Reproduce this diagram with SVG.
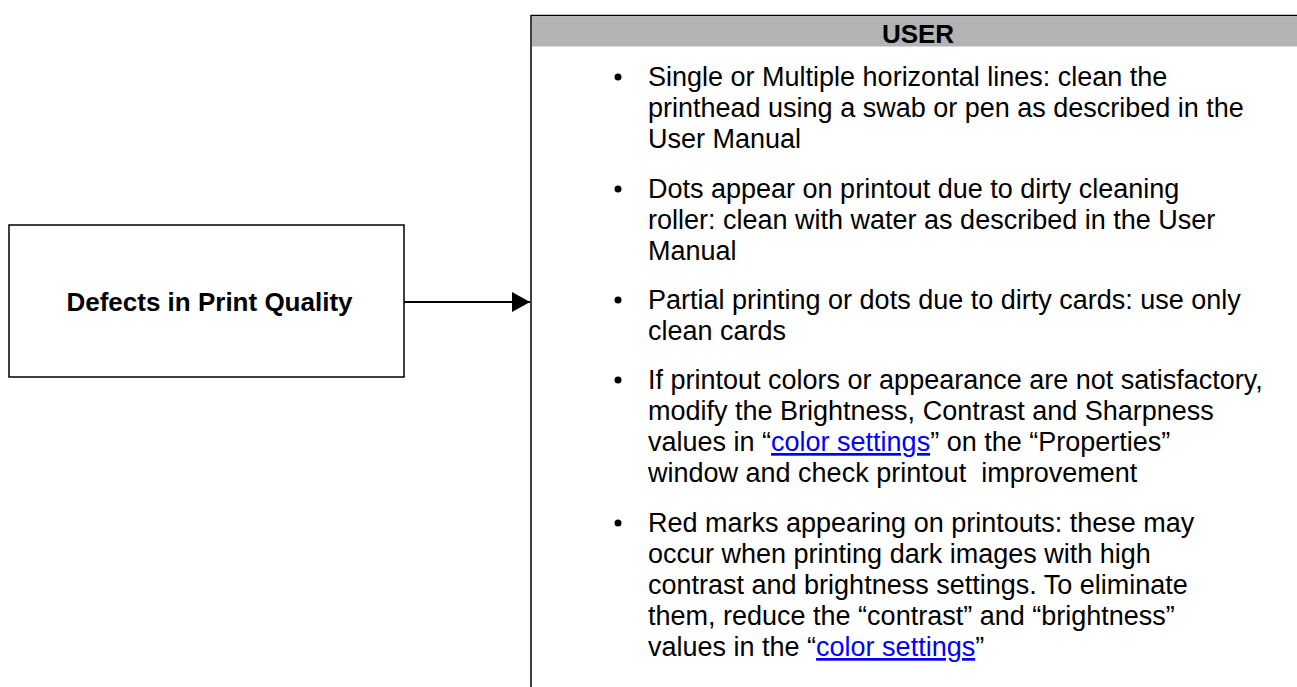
<svg xmlns="http://www.w3.org/2000/svg" width="1297" height="687" viewBox="0 0 1297 687">
<style>
.box{fill:#fff;stroke:#000;stroke-width:1.5}
.t{font-family:"Liberation Sans",Arial,sans-serif;font-size:27px;fill:#000}
.b{font-family:"Liberation Sans",Arial,sans-serif;font-weight:bold;font-size:26px;fill:#000}
.lnk{fill:#0000ff;text-decoration:underline}
.dot{fill:#000}
</style>
<defs>
<marker id="ah" markerWidth="18" markerHeight="20" refX="18" refY="10" orient="auto" markerUnits="userSpaceOnUse" viewBox="0 0 18 20">
<path d="M0,0 L18,10 L0,20 z" fill="#000"/>
</marker>
</defs>
<rect width="1297" height="687" fill="#fff"/>
<g id="node-defects">
<rect class="box" x="9" y="225" width="395" height="152"/>
<text class="b" x="209.5" y="311" text-anchor="middle">Defects in Print Quality</text>
</g>
<g id="node-user">
<rect class="box" x="531" y="15.5" width="800" height="700"/>
<rect x="532" y="16.5" width="800" height="30" fill="#b3b3b3"/>
<text class="b" x="918" y="43" font-size="24" text-anchor="middle">USER</text>
<circle class="dot" cx="618" cy="77" r="3.5"/>
<text class="t" x="648" y="86">Single or Multiple horizontal lines: clean the</text>
<text class="t" x="648" y="117">printhead using a swab or pen as described in the</text>
<text class="t" x="648" y="148">User Manual</text>
<circle class="dot" cx="618" cy="189" r="3.5"/>
<text class="t" x="648" y="198">Dots appear on printout due to dirty cleaning</text>
<text class="t" x="648" y="229">roller: clean with water as described in the User</text>
<text class="t" x="648" y="260">Manual</text>
<circle class="dot" cx="618" cy="300" r="3.5"/>
<text class="t" x="648" y="309">Partial printing or dots due to dirty cards: use only</text>
<text class="t" x="648" y="340">clean cards</text>
<circle class="dot" cx="618" cy="380" r="3.5"/>
<text class="t" x="648" y="389">If printout colors or appearance are not satisfactory,</text>
<text class="t" x="648" y="420">modify the Brightness, Contrast and Sharpness</text>
<text class="t" x="648" y="451">values in “<tspan class="lnk">color settings</tspan>” on the “Properties”</text>
<text class="t" x="648" y="482" xml:space="preserve">window and check printout  improvement</text>
<circle class="dot" cx="618" cy="523" r="3.5"/>
<text class="t" x="648" y="532">Red marks appearing on printouts: these may</text>
<text class="t" x="648" y="563">occur when printing dark images with high</text>
<text class="t" x="648" y="594">contrast and brightness settings. To eliminate</text>
<text class="t" x="648" y="625">them, reduce the “contrast” and “brightness”</text>
<text class="t" x="648" y="656">values in the “<tspan class="lnk">color settings</tspan>”</text>
</g>
<g id="connectors">
<line x1="404" y1="302" x2="530" y2="302" stroke="#000" stroke-width="2" marker-end="url(#ah)"/>
</g>
</svg>
